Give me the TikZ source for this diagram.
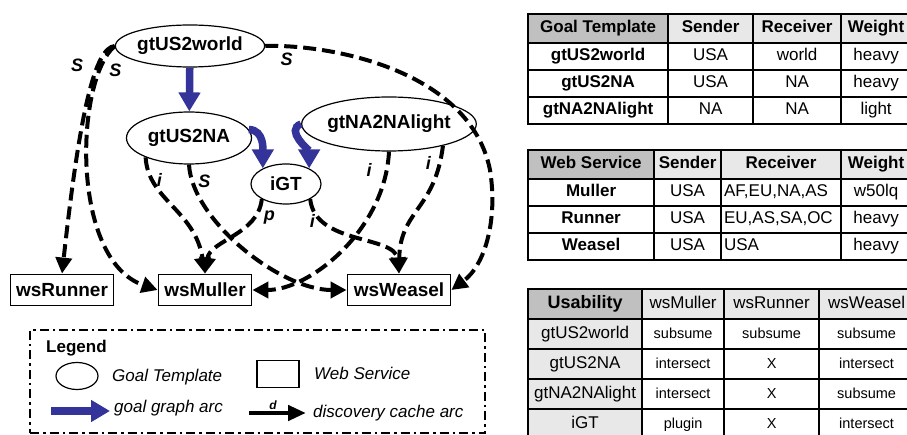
\documentclass[tikz,border=0pt]{standalone}
\usepackage{fontspec}
\setmainfont{Liberation Sans}
\usetikzlibrary{shapes.geometric,arrows.meta,matrix}

\definecolor{arcblue}{RGB}{51,51,153}
\definecolor{hdrgray}{RGB}{232,232,232}
\definecolor{keygray}{RGB}{192,192,192}

\newcommand{\fs}[1]{\fontsize{#1}{#1}\selectfont}

\tikzset{
  gt/.style={shape=ellipse, draw, line width=1.2pt, inner sep=0pt, font=\fs{19}\bfseries},
  ws/.style={shape=rectangle, draw, line width=1.8pt, inner sep=0pt, minimum height=31pt, font=\fs{19}\bfseries},
  goalarc/.style={arcblue, line width=7.5pt, -{Triangle[width=21pt,length=19pt]}},
  cachearc/.style={line width=4pt, dash pattern=on 13pt off 6pt, -{Triangle[width=16pt,length=16pt]}},
  arclabel/.style={font=\fs{18}\bfseries\itshape, inner sep=1pt},
  legendtext/.style={font=\fs{17}\itshape, anchor=west, inner sep=0pt},
  legendframe/.style={draw, line width=2.8pt, dash pattern=on 9pt off 4pt on 2.5pt off 4pt,
    minimum width=455pt, minimum height=103pt},
  tab/.style={matrix of nodes, anchor=north west, inner sep=0pt, column sep=-1.8pt, row sep=-1.8pt,
    nodes={draw, line width=1.8pt, anchor=center, inner xsep=3pt, inner ysep=0pt,
      text height=12pt, text depth=4pt, font=\fs{17}, minimum height=27pt}},
}

\begin{document}
\begin{tikzpicture}[x=1pt,y=1pt]
  \useasboundingbox (0,0) rectangle (907,-435);

  % goal templates and web services
  \node[gt, minimum width=124pt, minimum height=42pt] (gtUS2world) at (190,-46) {gtUS2world};
  \node[gt, minimum width=125pt, minimum height=52pt] (gtUS2NA) at (189,-138) {gtUS2NA};
  \node[gt, minimum width=140pt, minimum height=54pt] (gtNA2NAlight) at (389,-124) {gtNA2NAlight};
  \node[gt, minimum width=70pt, minimum height=40pt] (iGT) at (286,-184) {iGT};
  \node[ws, minimum width=103pt] (wsRunner) at (62,-290) {wsRunner};
  \node[ws, minimum width=93pt] (wsMuller) at (205,-290) {wsMuller};
  \node[ws, minimum width=103pt] (wsWeasel) at (399,-290) {wsWeasel};

  \draw[goalarc] (gtUS2world) -- (gtUS2NA);
  \draw[goalarc] (gtUS2NA.8) to[out=0, in=90] (iGT.146);
  \draw[goalarc] (gtNA2NAlight.west) to[out=200, in=90] (iGT.34);

  \draw[cachearc] (gtUS2world.west) .. controls (95,-48) and (80,-110) .. (wsRunner.north)
    node[arclabel, pos=0.3, left=12pt] {S};
  \draw[cachearc] (gtUS2world.west) .. controls (75,-80) and (70,-260) .. (wsMuller.west)
    node[arclabel, pos=0.15, right=7pt] {S};
  \draw[cachearc] (gtUS2world.east) .. controls (330,-44) and (470,-70) .. (490,-170)
    node[arclabel, pos=0.1, below=4pt] {S}
    .. controls (498,-220) and (485,-265) .. (wsWeasel.east);
  \draw[cachearc] (gtUS2NA.204) .. controls (148,-200) and (195,-210) .. (wsMuller.north)
    node[arclabel, pos=0.2, right=2pt] {i};
  \draw[cachearc] (gtUS2NA.south) .. controls (192,-220) and (280,-290) .. (wsWeasel.west)
    node[arclabel, pos=0.1, right=3pt] {S};
  \draw[cachearc] (iGT.212) .. controls (258,-235) and (210,-240) .. (wsMuller.north)
    node[arclabel, pos=0.2, right=6pt] {p};
  \draw[cachearc] (iGT.328) .. controls (315,-245) and (395,-235) .. (wsWeasel.north)
    node[arclabel, pos=0.2, left=3pt] {i};
  \draw[cachearc] (gtNA2NAlight.south) .. controls (385,-230) and (310,-290) .. (wsMuller.east)
    node[arclabel, pos=0.08, left=12pt] {i};
  \draw[cachearc] (gtNA2NAlight.338) .. controls (435,-210) and (400,-210) .. (wsWeasel.north)
    node[arclabel, pos=0.1, left=6pt] {i};

  % legend
  \node[legendframe] (legend) at (257.5,-381.5) {};
  \node[font=\fs{17}\bfseries, anchor=west, inner sep=0pt] (legendtitle) at (46,-348) {Legend};
  \node[gt, minimum width=42pt, minimum height=27pt] (keygt) at (77,-376) {};
  \node[legendtext] (keygtlabel) at (112,-377) {Goal Template};
  \node[draw, line width=1.5pt, minimum width=42pt, minimum height=27pt] (keyws) at (278,-374) {};
  \node[legendtext] (keywslabel) at (314,-373) {Web Service};
  \coordinate (goalarcstart) at (51,-411);
  \coordinate (goalarcend) at (110,-411);
  \draw[goalarc] (goalarcstart) -- (goalarcend);
  \node[legendtext] (goalarclabel) at (114,-408) {goal graph arc};
  \coordinate (cachearcstart) at (249,-413);
  \coordinate (cachearcend) at (306,-413);
  \draw[line width=4.5pt, -{Triangle[width=15pt,length=18pt]}] (cachearcstart) -- (cachearcend)
    node[pos=0.42, above, font=\fs{12}\bfseries\itshape, inner sep=1.5pt] {d};
  \node[legendtext] (cachearclabel) at (313,-413) {discovery cache arc};

  % tables
  \begin{scope}
    \clip (0,0) rectangle (907,-435);
    \matrix (goaltab) [tab,
      column 1/.style={nodes={minimum width=140pt, font=\fs{17}\bfseries}},
      column 2/.style={nodes={minimum width=85pt}},
      column 3/.style={nodes={minimum width=88pt}},
      column 4/.style={nodes={minimum width=70pt}},
      row 1/.style={nodes={fill=hdrgray, font=\fs{17}\bfseries, minimum height=29pt}},
      row 1 column 1/.style={nodes={fill=keygray}}] at (527,-13) {
      Goal Template & Sender & Receiver & Weight \\
      gtUS2world & USA & world & heavy \\
      gtUS2NA & USA & NA & heavy \\
      gtNA2NAlight & NA & NA & light \\
    };
    \matrix (servicetab) [tab,
      column 1/.style={nodes={minimum width=126pt, font=\fs{17}\bfseries}},
      column 2/.style={nodes={minimum width=67pt}},
      column 3/.style={nodes={text width=114pt, align=left}},
      column 4/.style={nodes={minimum width=70pt}},
      row 1/.style={nodes={fill=hdrgray, font=\fs{17}\bfseries, minimum height=29pt}},
      row 1 column 1/.style={nodes={fill=keygray}},
      row 1 column 3/.style={nodes={align=center}}] at (527,-149) {
      Web Service & Sender & Receiver & Weight \\
      Muller & USA & AF,EU,NA,AS & w50lq \\
      Runner & USA & EU,AS,SA,OC & heavy \\
      Weasel & USA & USA & heavy \\
    };
    \matrix (usetab) [tab, nodes={minimum height=30pt, font=\fs{14.5}},
      column 1/.style={nodes={minimum width=114pt, fill=hdrgray, font=\fs{17}}},
      column 2/.style={nodes={minimum width=82pt}},
      column 3/.style={nodes={minimum width=95pt}},
      column 4/.style={nodes={minimum width=95pt}},
      row 1/.style={nodes={fill=hdrgray, font=\fs{17}}},
      row 1 column 1/.style={nodes={fill=keygray, font=\fs{18}\bfseries}}] at (527,-288) {
      Usability & wsMuller & wsRunner & wsWeasel \\
      gtUS2world & subsume & subsume & subsume \\
      gtUS2NA & intersect & X & intersect \\
      gtNA2NAlight & intersect & X & subsume \\
      iGT & plugin & X & intersect \\
    };
  \end{scope}
\end{tikzpicture}
\end{document}
